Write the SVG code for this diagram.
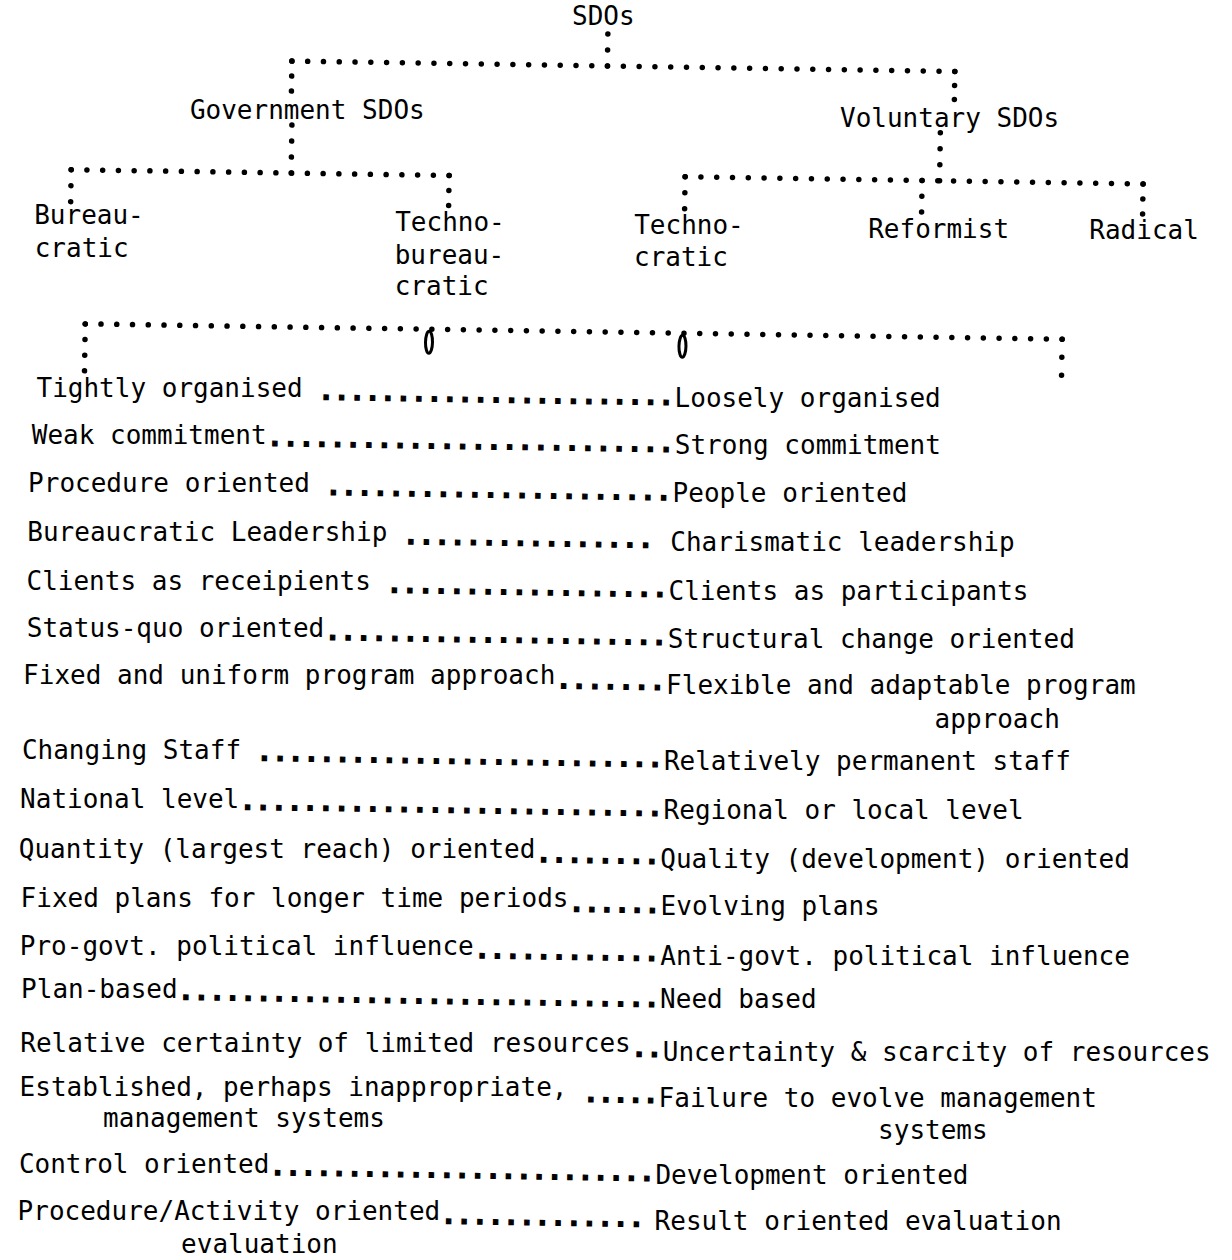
<svg xmlns="http://www.w3.org/2000/svg" width="1232" height="1260" viewBox="0 0 1232 1260">
<style>
text{font-family:"DejaVu Sans Mono","Liberation Mono",monospace;font-size:26px;fill:#000;}
.d{font-weight:bold;stroke:#000;stroke-width:1.2;}
.c{stroke:#000;stroke-width:5.5;stroke-linecap:round;fill:none;}
.m{stroke:#000;stroke-width:3;fill:none;}
</style>
<rect x="0" y="0" width="1232" height="1260" fill="#fff"/>
<g id="connectors" transform="rotate(0.9 600 630)">
<line class="c" x1="598.5" y1="34" x2="598.5" y2="66.5" stroke-dasharray="0 16"/>
<line class="c" x1="283" y1="66" x2="946.5" y2="66" stroke-dasharray="0 15.786"/>
<line class="c" x1="283" y1="66" x2="283" y2="96.5" stroke-dasharray="0 15"/>
<line class="c" x1="946" y1="66" x2="946" y2="94.5" stroke-dasharray="0 14"/>
<line class="c" x1="284" y1="130" x2="284" y2="178.5" stroke-dasharray="0 16"/>
<line class="c" x1="64" y1="178" x2="442.5" y2="178" stroke-dasharray="0 15.75"/>
<line class="c" x1="64" y1="178" x2="64" y2="210.5" stroke-dasharray="0 16"/>
<line class="c" x1="442" y1="178" x2="442" y2="208.5" stroke-dasharray="0 15"/>
<line class="c" x1="932.5" y1="127.5" x2="932.5" y2="176" stroke-dasharray="0 16"/>
<line class="c" x1="678" y1="175.5" x2="1136.5" y2="175.5" stroke-dasharray="0 15.793"/>
<line class="c" x1="678" y1="175.5" x2="678" y2="208" stroke-dasharray="0 16"/>
<line class="c" x1="915" y1="175.5" x2="915" y2="207.5" stroke-dasharray="0 15.75"/>
<line class="c" x1="1136" y1="175.5" x2="1136" y2="206" stroke-dasharray="0 15"/>
<line class="c" x1="80.5" y1="332" x2="1058" y2="332" stroke-dasharray="0 15.758"/>
<line class="c" x1="80.5" y1="332" x2="80.5" y2="379.5" stroke-dasharray="0 15.667"/>
<line class="c" x1="1057.5" y1="332" x2="1057.5" y2="368.5" stroke-dasharray="0 18"/>
<ellipse class="m" cx="424.5" cy="345" rx="3.5" ry="11"/>
<ellipse class="m" cx="678" cy="345" rx="3.5" ry="11"/>
</g>
<g id="node-sdos"><text x="572" y="25.4">SDOs</text></g>
<g id="node-government"><text x="189.9" y="119.3">Government SDOs</text></g>
<g id="node-voluntary"><text x="840" y="127.4">Voluntary SDOs</text></g>
<g id="node-bureaucratic"><text x="34.2" y="223.9">Bureau-</text><text x="34.7" y="256.8">cratic</text></g>
<g id="node-technobureaucratic"><text x="395.2" y="230.5">Techno-</text><text x="394.7" y="263.5">bureau-</text><text x="394.7" y="295.4">cratic</text></g>
<g id="node-technocratic"><text x="634.2" y="233.8">Techno-</text><text x="634" y="265.7">cratic</text></g>
<g id="node-reformist"><text x="868.2" y="238.2">Reformist</text></g>
<g id="node-radical"><text x="1089.3" y="239.4">Radical</text></g>
<g id="row-1"><text x="36.5" y="397.2">Tightly organised</text><text class="d" x="318.3" y="399.5" letter-spacing="-0.2" transform="rotate(0.9 318.3 399.5)">.......................</text><text x="674.6" y="407.2">Loosely organised</text></g>
<g id="row-2"><text x="31.8" y="443.9">Weak commitment</text><text class="d" x="267.1" y="445.7" letter-spacing="-0.01" transform="rotate(0.9 267.1 445.7)">..........................</text><text x="674.8" y="454.2">Strong commitment</text></g>
<g id="row-3"><text x="28.1" y="492.2">Procedure oriented</text><text class="d" x="325.4" y="494.7" letter-spacing="0.08" transform="rotate(0.9 325.4 494.7)">......................</text><text x="672.6" y="502">People oriented</text></g>
<g id="row-4"><text x="27.3" y="540.8">Bureaucratic Leadership</text><text class="d" x="402.9" y="543.9" transform="rotate(0.9 402.9 543.9)">................</text><text x="670.3" y="550.8">Charismatic leadership</text></g>
<g id="row-5"><text x="26.5" y="589.7">Clients as receipients</text><text class="d" x="386.5" y="592.6" letter-spacing="-0.04" transform="rotate(0.9 386.5 592.6)">..................</text><text x="668.5" y="599.9">Clients as participants</text></g>
<g id="row-6"><text x="26.8" y="637.3">Status-quo oriented</text><text class="d" x="324.7" y="639.7" letter-spacing="-0.1" transform="rotate(0.9 324.7 639.7)">......................</text><text x="667.8" y="648.3">Structural change oriented</text></g>
<g id="row-7"><text x="23.1" y="684.1">Fixed and uniform program approach</text><text class="d" x="555.7" y="688.3" letter-spacing="-0.02" transform="rotate(0.9 555.7 688.3)">.......</text><text x="666.1" y="693.7">Flexible and adaptable program</text><text x="934.6" y="728.3">approach</text></g>
<g id="row-8"><text x="21.9" y="758.7">Changing Staff</text><text class="d" x="256.6" y="760.6" letter-spacing="-0.03" transform="rotate(0.9 256.6 760.6)">..........................</text><text x="663.9" y="770.2">Relatively permanent staff</text></g>
<g id="row-9"><text x="20.1" y="807.7">National level</text><text class="d" x="239.7" y="809.4" letter-spacing="0.01" transform="rotate(0.9 239.7 809.4)">...........................</text><text x="663.6" y="818.9">Regional or local level</text></g>
<g id="row-10"><text x="18.8" y="858">Quantity (largest reach) oriented</text><text class="d" x="535.8" y="862" letter-spacing="-0.21" transform="rotate(0.9 535.8 862)">........</text><text x="660.3" y="867.7">Quality (development) oriented</text></g>
<g id="row-11"><text x="20.6" y="907.3">Fixed plans for longer time periods</text><text class="d" x="568.8" y="911.6" letter-spacing="-0.53" transform="rotate(0.9 568.8 911.6)">......</text><text x="660.6" y="914.7">Evolving plans</text></g>
<g id="row-12"><text x="19.8" y="954.5">Pro-govt. political influence</text><text class="d" x="474.2" y="958.1" letter-spacing="-0.23" transform="rotate(0.9 474.2 958.1)">............</text><text x="660.3" y="964.7">Anti-govt. political influence</text></g>
<g id="row-13"><text x="21.1" y="998.2">Plan-based</text><text class="d" x="178.1" y="999.5" letter-spacing="-0.13" transform="rotate(0.9 178.1 999.5)">...............................</text><text x="660.1" y="1008.3">Need based</text></g>
<g id="row-14"><text x="20.3" y="1051.8">Relative certainty of limited resources</text><text class="d" x="631.2" y="1056.6" letter-spacing="-0.35" transform="rotate(0.9 631.2 1056.6)">..</text><text x="662.8" y="1061.4">Uncertainty &amp; scarcity of resources</text></g>
<g id="row-15"><text x="19.6" y="1096">Established, perhaps inappropriate,</text><text class="d" x="583" y="1101.8" letter-spacing="-0.73" transform="rotate(0.9 583 1101.8)">.....</text><text x="658.6" y="1106.5">Failure to evolve management</text><text x="103.1" y="1127">management systems</text><text x="878.1" y="1139.4">systems</text></g>
<g id="row-16"><text x="18.9" y="1173">Control oriented</text><text class="d" x="269.8" y="1174.9" letter-spacing="-0.27" transform="rotate(0.9 269.8 1174.9)">.........................</text><text x="655.4" y="1183.5">Development oriented</text></g>
<g id="row-17"><text x="17.6" y="1220.3">Procedure/Activity oriented</text><text class="d" x="440.7" y="1223.6" transform="rotate(0.9 440.7 1223.6)">.............</text><text x="654.6" y="1230.2">Result oriented evaluation</text><text x="181.1" y="1252.8">evaluation</text></g>
</svg>
